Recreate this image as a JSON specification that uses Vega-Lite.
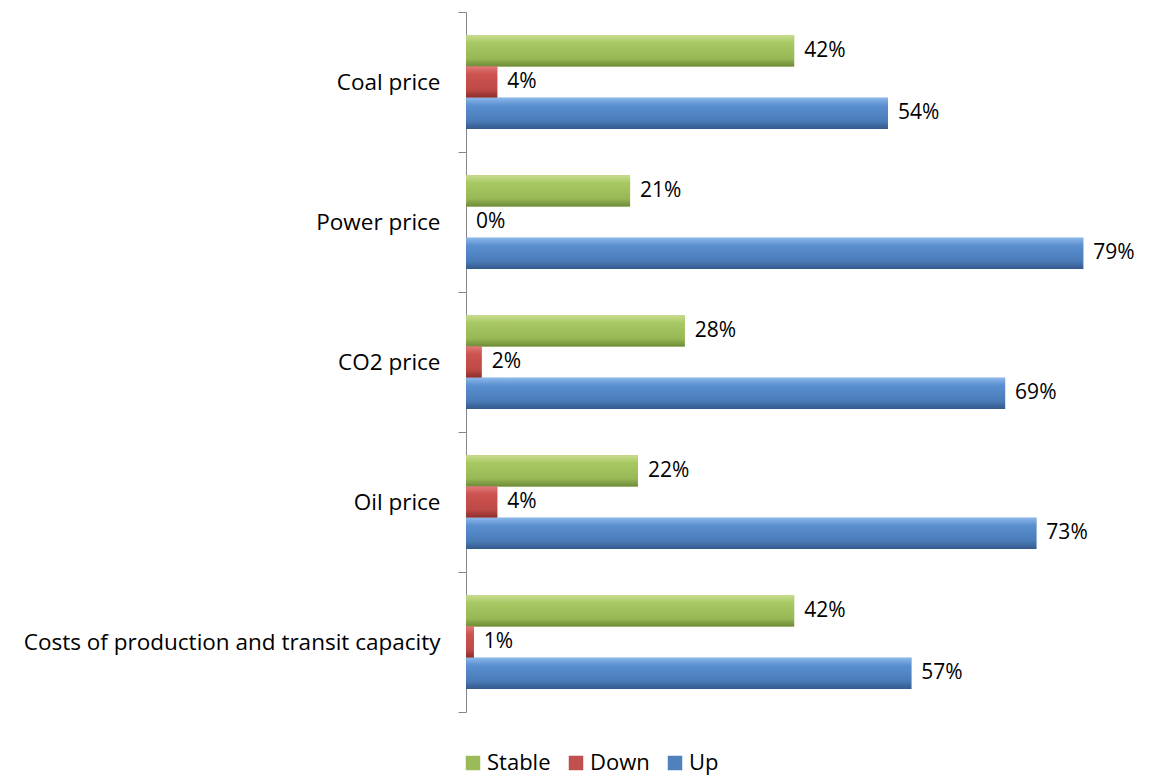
{
  "$schema": "https://vega.github.io/schema/vega-lite/v6.json",
  "autosize": {"type": "none"},
  "width": 686,
  "height": 700,
  "padding": {"left": 466, "top": 12, "right": 0, "bottom": 64},
  "background": "white",
  "config": {"view": {"stroke": null}, "font": "Open Sans"},
  "data": {"values": [
    {"cat": "Coal price", "s": "Stable", "v": 0.42},
    {"cat": "Coal price", "s": "Down", "v": 0.04},
    {"cat": "Coal price", "s": "Up", "v": 0.54},
    {"cat": "Power price", "s": "Stable", "v": 0.21},
    {"cat": "Power price", "s": "Down", "v": 0.0},
    {"cat": "Power price", "s": "Up", "v": 0.79},
    {"cat": "CO2 price", "s": "Stable", "v": 0.28},
    {"cat": "CO2 price", "s": "Down", "v": 0.02},
    {"cat": "CO2 price", "s": "Up", "v": 0.69},
    {"cat": "Oil price", "s": "Stable", "v": 0.22},
    {"cat": "Oil price", "s": "Down", "v": 0.04},
    {"cat": "Oil price", "s": "Up", "v": 0.73},
    {"cat": "Costs of production and transit capacity", "s": "Stable", "v": 0.42},
    {"cat": "Costs of production and transit capacity", "s": "Down", "v": 0.01},
    {"cat": "Costs of production and transit capacity", "s": "Up", "v": 0.57}
  ]},
  "encoding": {
    "y": {
      "field": "cat", "type": "nominal", "sort": null,
      "scale": {"paddingInner": 0, "paddingOuter": 0},
      "axis": {
        "title": null, "tickBand": "extent", "labelFontSize": 22.5, "labelColor": "#000000",
        "labelPadding": 18, "tickSize": 8, "tickColor": "#868686", "domainColor": "#868686",
        "labelLimit": 500, "labelFont": "Open Sans"
      }
    },
    "yOffset": {"field": "s", "type": "nominal", "sort": ["Stable", "Down", "Up"], "scale": {"paddingInner": 0, "paddingOuter": 0.74}},
    "x": {"field": "v", "type": "quantitative", "scale": {"domain": [0, 0.878], "nice": false, "zero": true}, "axis": null}
  },
  "layer": [
    {
      "mark": {"type": "bar"},
      "encoding": {
        "color": {
          "field": "s", "type": "nominal",
          "scale": {"domain": ["Stable", "Down", "Up"], "range": ["#9BBB59", "#C0504D", "#4F81BD"]},
          "legend": {
            "title": null, "orient": "none", "direction": "horizontal", "legendX": -4, "legendY": 740,
            "symbolType": "square", "symbolSize": 210, "symbolStrokeWidth": 0, "labelFontSize": 22,
            "labelFont": "Open Sans", "labelColor": "#000000", "columnPadding": 14, "labelOffset": 3
          }
        }
      }
    },
    {
      "transform": [{"filter": "datum.s === 'Stable'"}],
      "mark": {"type": "bar", "fill": {"gradient": "linear", "x1": 0, "y1": 0, "x2": 0, "y2": 1,
        "stops": [{"offset": 0, "color": "#C9DD8F"}, {"offset": 0.25, "color": "#A8C862"}, {"offset": 0.75, "color": "#97B855"}, {"offset": 1, "color": "#6F8B38"}]}}
    },
    {
      "transform": [{"filter": "datum.s === 'Down'"}],
      "mark": {"type": "bar", "fill": {"gradient": "linear", "x1": 0, "y1": 0, "x2": 0, "y2": 1,
        "stops": [{"offset": 0, "color": "#E07A77"}, {"offset": 0.25, "color": "#CC5350"}, {"offset": 0.75, "color": "#BD4946"}, {"offset": 1, "color": "#8E2E2C"}]}}
    },
    {
      "transform": [{"filter": "datum.s === 'Up'"}],
      "mark": {"type": "bar", "fill": {"gradient": "linear", "x1": 0, "y1": 0, "x2": 0, "y2": 1,
        "stops": [{"offset": 0, "color": "#8DB9EC"}, {"offset": 0.25, "color": "#5A8FD0"}, {"offset": 0.75, "color": "#4A7BB8"}, {"offset": 1, "color": "#345A8C"}]}}
    },
    {
      "mark": {"type": "text", "align": "left", "baseline": "middle", "dx": 10, "fontSize": 21, "color": "#000000", "font": "Open Sans"},
      "encoding": {"text": {"field": "v", "type": "quantitative", "format": ".0%"}}
    }
  ]
}
